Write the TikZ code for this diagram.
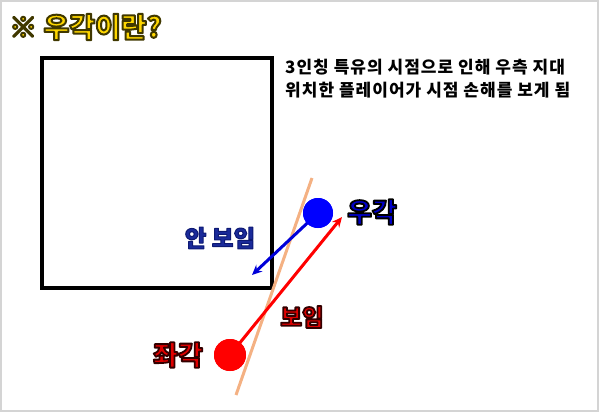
\documentclass[tikz,border=0pt]{standalone}
\usepackage{fontspec}
\setmainfont{Noto Sans CJK KR}
\newfontfamily\bodyfont{Noto Sans CJK KR}[LetterSpace=6]
\usetikzlibrary{arrows.meta}
\definecolor{ttlyellow}{HTML}{FFD700}
\definecolor{orng}{HTML}{F4B183}
\definecolor{lblblue}{HTML}{0000C8}
\definecolor{navy}{HTML}{1A2A9A}
\definecolor{lblred}{HTML}{E00000}
\definecolor{framegray}{HTML}{D4D4D4}
% outlined text: #1 fill colour, #2 stroke rgb, #3 stroke width, #4 text
\newcommand{\outltext}[4]{{\color{#1}\special{pdf:literal direct 1 j #2 RG #3 w 2 Tr}#4\special{pdf:literal direct 0 Tr}}}
\begin{document}
\begin{tikzpicture}[x=1pt,y=-1pt,
  dot/.style={circle,inner sep=0pt,minimum size=#1},
  arr/.style={line width=3pt,-{Stealth[length=10pt,width=9pt]}},
  lbl/.style={inner sep=0pt,font=\bfseries\fontsize{27}{30}\selectfont},
  small/.style={inner sep=0pt,font=\bfseries\fontsize{23.5}{26}\selectfont},
  body/.style={inner sep=0pt,anchor=base west,font=\bodyfont\bfseries\fontsize{17}{20}\selectfont}]
\useasboundingbox (0,0) rectangle (600,413);
\draw[framegray,line width=2pt] (0.5,1) rectangle (598,411);
% title
\node[lbl,font=\bfseries\fontsize{28}{32}\selectfont,anchor=west] (title) at (9,27) {\outltext{ttlyellow}{0.25 0.22 0}{2}{※ 우각이란?}};
% body text
\node[body] (line1) at (285,73) {3인칭 특유의 시점으로 인해 우측 지대};
\node[body] (line2) at (285,96) {위치한 플레이어가 시점 손해를 보게 됨};
% square
\node[draw,line width=3.2pt,minimum width=230,minimum height=230,inner sep=0pt] (box) at (157,173) {};
% orange line
\coordinate (o1) at (312,178);
\coordinate (o2) at (236,395);
\draw[orng,line width=3pt] (o1) -- (o2);
% arrows
\coordinate (bend) at (252,275);
\coordinate (rend) at (342,217);
\node[dot=30pt,fill=blue] (bdot) at (318,213) {};
\node[dot=32pt,fill=red] (rdot) at (230,355) {};
\draw[arr,blue!85!black] (bdot.center) -- (bend);
\draw[arr,red] (rdot.center) -- (rend);
\node[dot=30pt,fill=blue] at (bdot) {};
\node[dot=32pt,fill=red] at (rdot) {};
% labels
\node[lbl,anchor=west] (ugak) at (347,212) {\outltext{lblblue}{0 0 0}{1.8}{우각}};
\node[small] (anboim) at (220,238) {\outltext{navy}{0.05 0.1 0.45}{1}{안 보임}};
\node[small] (boim) at (302,317) {\outltext{lblred}{0.2 0 0}{1.8}{보임}};
\node[lbl] (jwagak) at (178,355) {\outltext{lblred}{0.2 0 0}{1.8}{좌각}};
\end{tikzpicture}
\end{document}
